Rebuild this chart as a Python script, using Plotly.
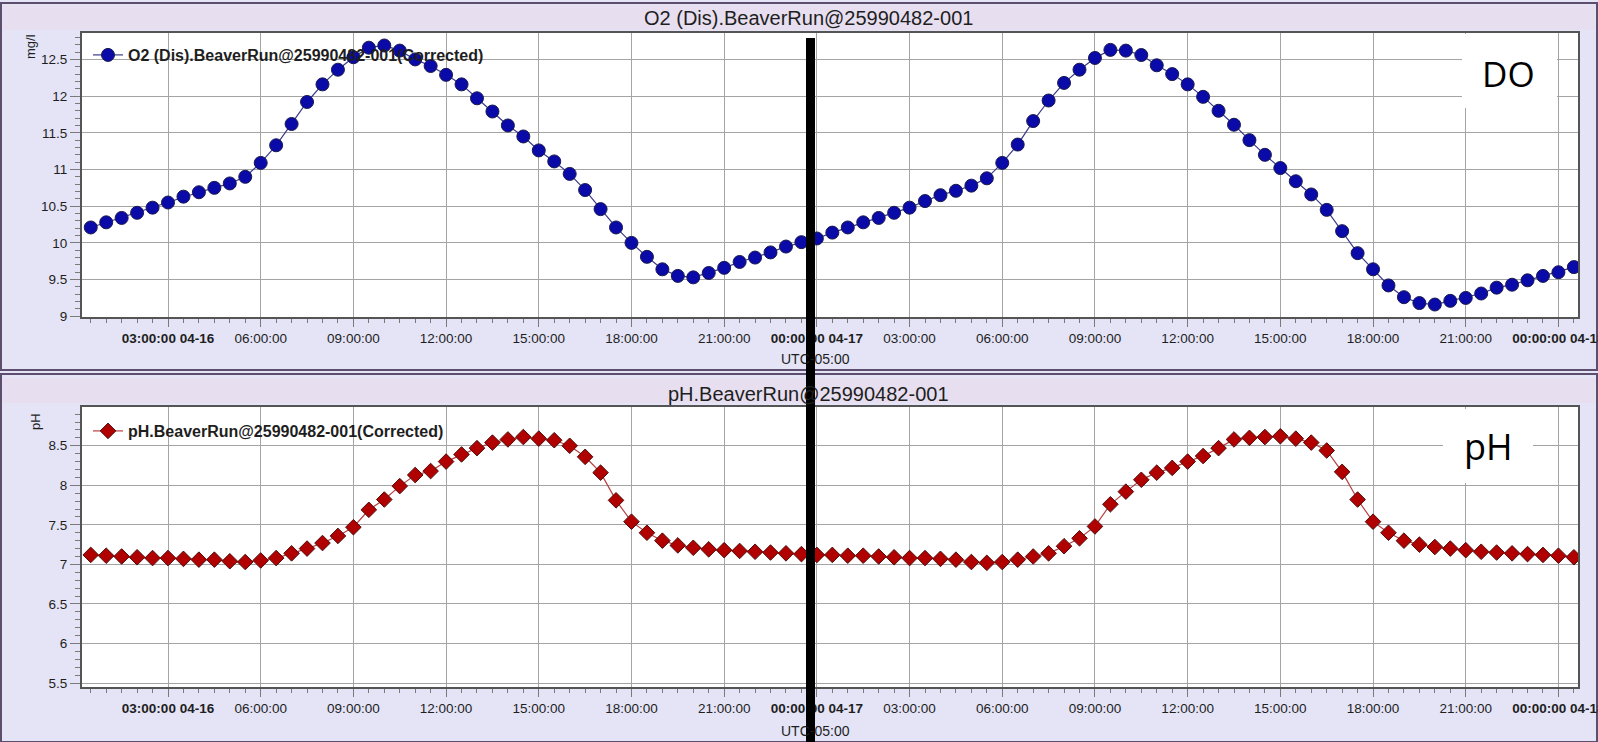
import pandas as pd
import plotly.graph_objects as go

W, H = 1598, 742

def px(x):
    return x / W

def py(y):
    return 1 - y / H

# ---------------- data ----------------
start_time = "2014-04-16 00:30"

do_values = [
    10.21, 10.28, 10.34, 10.41, 10.48, 10.55, 10.63, 10.69, 10.75, 10.81,
    10.90, 11.09, 11.33, 11.62, 11.92, 12.16, 12.36, 12.53, 12.66, 12.69,
    12.62, 12.50, 12.41, 12.29, 12.16, 11.97, 11.79, 11.60, 11.45, 11.26,
    11.11, 10.94, 10.72, 10.46, 10.21, 10.00, 9.81, 9.64, 9.55, 9.53,
    9.59, 9.66, 9.74, 9.80, 9.87, 9.95, 10.01, 10.06,
    10.14, 10.21, 10.28, 10.34, 10.41, 10.48, 10.57, 10.65, 10.71, 10.78,
    10.88, 11.09, 11.34, 11.66, 11.94, 12.18, 12.36, 12.52, 12.63, 12.62,
    12.56, 12.42, 12.30, 12.16, 11.99, 11.80, 11.61, 11.40, 11.20, 11.02,
    10.84, 10.66, 10.45, 10.16, 9.86, 9.64, 9.42, 9.26, 9.18, 9.16,
    9.21, 9.25, 9.31, 9.39, 9.43, 9.49, 9.55, 9.60, 9.67,
]

ph_values = [
    7.12, 7.11, 7.10, 7.09, 7.08, 7.08, 7.07, 7.06, 7.06, 7.04,
    7.03, 7.05, 7.08, 7.14, 7.20, 7.27, 7.36, 7.47, 7.69, 7.82,
    7.99, 8.13, 8.18, 8.30, 8.39, 8.47, 8.54, 8.58, 8.61, 8.59,
    8.57, 8.50, 8.36, 8.16, 7.81, 7.54, 7.40, 7.30, 7.24, 7.21,
    7.19, 7.18, 7.17, 7.16, 7.15, 7.14, 7.13, 7.12,
    7.12, 7.11, 7.11, 7.10, 7.09, 7.08, 7.08, 7.07, 7.06, 7.03,
    7.02, 7.03, 7.06, 7.10, 7.14, 7.23, 7.33, 7.48, 7.76, 7.92,
    8.07, 8.16, 8.22, 8.30, 8.37, 8.47, 8.58, 8.60, 8.61, 8.62,
    8.59, 8.54, 8.44, 8.17, 7.82, 7.54, 7.40, 7.30, 7.25, 7.22,
    7.20, 7.18, 7.16, 7.15, 7.14, 7.13, 7.12, 7.11, 7.09,
]

times = pd.date_range(start_time, periods=len(do_values), freq="30min")

tick_times = pd.date_range("2014-04-16 03:00", "2014-04-18 00:00", freq="3h")
tick_labels = [
    "<b>03:00:00 04-16</b>", "06:00:00", "09:00:00", "12:00:00", "15:00:00",
    "18:00:00", "21:00:00", "<b>00:00:00 04-17</b>", "03:00:00", "06:00:00",
    "09:00:00", "12:00:00", "15:00:00", "18:00:00", "21:00:00",
    "<b>00:00:00 04-18</b>",
]

x_range = ["2014-04-16 00:13", "2014-04-18 00:38"]
do_range = [8.99, 12.86]
ph_range = [5.45, 8.99]

do_title = "O2 (Dis).BeaverRun@25990482-001"
ph_title = "pH.BeaverRun@25990482-001"
do_name = "O2 (Dis).BeaverRun@25990482-001(Corrected)"
ph_name = "pH.BeaverRun@25990482-001(Corrected)"

# ---------------- style ----------------
FONT = "Liberation Sans"
PANEL_BG = "#E4E4F6"
TITLE_BG = "#E7DEF0"
FRAME = "#5E4E6E"
GRID = "#A4A4A4"
TICK = "#7A7A7A"
TXT = "#1E1E1E"

fig = go.Figure()

fig.add_trace(go.Scatter(
    x=times, y=do_values, mode="lines+markers", name=do_name,
    xaxis="x", yaxis="y", legend="legend",
    line=dict(color="#3A3A8A", width=1.2),
    marker=dict(symbol="circle", size=13, color="#0A0AA8",
                line=dict(color="#1A1A50", width=1)),
))
fig.add_trace(go.Scatter(
    x=times, y=ph_values, mode="lines+markers", name=ph_name,
    xaxis="x2", yaxis="y2", legend="legend2",
    line=dict(color="#B84040", width=1.2),
    marker=dict(symbol="diamond", size=12, color="#B00000",
                line=dict(color="#501010", width=1)),
))

def xaxis_cfg(anchor):
    return dict(
        domain=[px(82), px(1578)], anchor=anchor, type="date", automargin=False,
        range=x_range, tickmode="array", tickvals=tick_times, ticktext=tick_labels,
        showgrid=True, gridcolor=GRID, gridwidth=1,
        showline=True, linecolor="#555555", linewidth=2, mirror=True,
        ticks="outside", ticklen=8, tickcolor=TICK, tickwidth=1,
        minor=dict(dtick=1800000, tick0="2014-04-16 00:00", ticks="outside",
                   ticklen=4, tickcolor=TICK, showgrid=False),
        tickfont=dict(family=FONT, size=13.5, color=TXT),
        ticklabeloverflow="allow", zeroline=False, fixedrange=True,
    )

def yaxis_cfg(anchor, dom, rng, tick0):
    return dict(
        domain=dom, anchor=anchor, range=rng, tick0=tick0, dtick=0.5, automargin=False,
        showgrid=True, gridcolor=GRID, gridwidth=1,
        showline=True, linecolor="#555555", linewidth=2, mirror=True,
        ticks="outside", ticklen=10, tickcolor=TICK, tickwidth=1,
        minor=dict(dtick=0.1, ticks="outside", ticklen=5, tickcolor=TICK, showgrid=False),
        tickfont=dict(family=FONT, size=13.5, color=TXT),
        zeroline=False, fixedrange=True,
    )

shapes = [
    # top panel frame + title bar
    dict(type="rect", xref="paper", yref="paper", x0=px(1), x1=px(1597), y0=py(370), y1=py(3),
         line=dict(color=FRAME, width=2), fillcolor=PANEL_BG, layer="below"),
    dict(type="rect", xref="paper", yref="paper", x0=px(3), x1=px(1595), y0=py(30), y1=py(5),
         line=dict(width=0), fillcolor=TITLE_BG, layer="below"),
    # bottom panel frame + title bar
    dict(type="rect", xref="paper", yref="paper", x0=px(1), x1=px(1597), y0=py(742), y1=py(374),
         line=dict(color=FRAME, width=2), fillcolor=PANEL_BG, layer="below"),
    dict(type="rect", xref="paper", yref="paper", x0=px(3), x1=px(1595), y0=py(403), y1=py(378),
         line=dict(width=0), fillcolor=TITLE_BG, layer="below"),
    # white plot areas
    dict(type="rect", xref="paper", yref="paper", x0=px(82), x1=px(1578), y0=py(317), y1=py(33),
         line=dict(width=0), fillcolor="white", layer="below"),
    dict(type="rect", xref="paper", yref="paper", x0=px(82), x1=px(1578), y0=py(687), y1=py(407),
         line=dict(width=0), fillcolor="white", layer="below"),
    # white label boxes pasted on top of the plots
    dict(type="rect", xref="paper", yref="paper", x0=px(1462), x1=px(1557), y0=py(108), y1=py(34),
         line=dict(width=0), fillcolor="white", layer="above"),
    dict(type="rect", xref="paper", yref="paper", x0=px(1443), x1=px(1533), y0=py(483), y1=py(409),
         line=dict(width=0), fillcolor="white", layer="above"),
    # thick black marker bar
    dict(type="line", xref="paper", yref="paper", x0=px(810.5), x1=px(810.5), y0=py(742), y1=py(38),
         line=dict(color="black", width=9), layer="above"),
]

ann = []
def text(x, y, s, size=13, angle=0, color=TXT, family=FONT):
    ann.append(dict(xref="paper", yref="paper", x=px(x), y=py(y), text=s, showarrow=False,
                    textangle=angle, font=dict(family=family, size=size, color=color),
                    xanchor="center", yanchor="middle"))

text(808, 18, do_title, size=20)
text(808, 394, ph_title, size=20)
text(815, 359, "UTC-05:00", size=14)
text(815, 731, "UTC-05:00", size=14)
text(31, 47, "mg/l", size=13, angle=-90)
text(35, 422, "pH", size=13, angle=-90)
text(1508, 74, "DO", size=35, color="black", family="Open Sans")
text(1488, 446, "pH", size=36, color="black", family="Open Sans")

fig.update_layout(
    width=W, height=H, margin=dict(l=0, r=0, t=0, b=0, autoexpand=False),
    paper_bgcolor=PANEL_BG, plot_bgcolor="rgba(0,0,0,0)",
    xaxis=xaxis_cfg("y"), yaxis=yaxis_cfg("x", [py(317), py(33)], do_range, 9),
    xaxis2=xaxis_cfg("y2"), yaxis2=yaxis_cfg("x2", [py(687), py(407)], ph_range, 5.5),
    shapes=shapes, annotations=ann,
    showlegend=True,
    legend=dict(x=px(88), y=py(55), xanchor="left", yanchor="middle",
                bgcolor="rgba(0,0,0,0)", borderwidth=0,
                font=dict(family=FONT, size=16, color=TXT, weight="bold")),
    legend2=dict(x=px(88), y=py(431), xanchor="left", yanchor="middle",
                 bgcolor="rgba(0,0,0,0)", borderwidth=0,
                 font=dict(family=FONT, size=16, color=TXT, weight="bold")),
)

fig.write_html("out.html")
